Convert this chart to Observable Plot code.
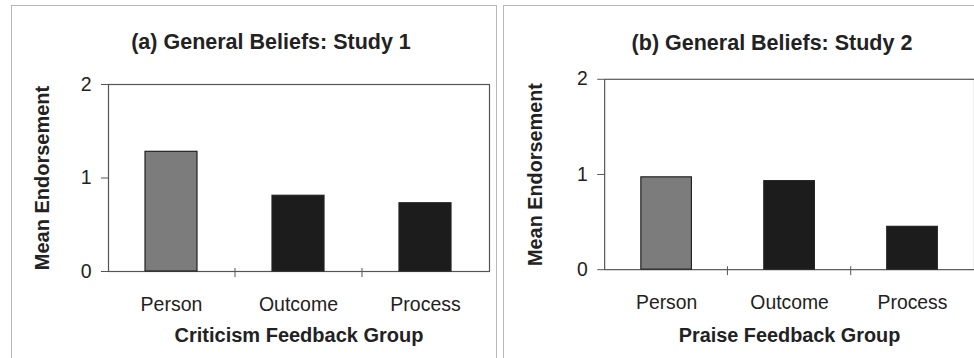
<!DOCTYPE html>
<html>
<head>
<meta charset="utf-8">
<script src="https://cdn.jsdelivr.net/npm/d3@7"></script>
<script src="https://cdn.jsdelivr.net/npm/@observablehq/plot@0.6"></script>
<style>
  html, body { margin: 0; padding: 0; background: #fff; width: 974px; height: 358px; overflow: hidden; }
  body { position: relative; font-family: "Liberation Sans", Arial, sans-serif; color: #222; }
  .panel { position: absolute; top: 5px; height: 400px; border: 1px solid #b8b8b8; box-sizing: border-box; }
  .title { position: absolute; font-weight: bold; font-size: 21.5px; color: #222; white-space: nowrap; transform: translate(-50%, -50%); }
  .chart { position: absolute; }
</style>
</head>
<body>
<div class="panel" style="left:11px; width:486px;"></div>
<div class="panel" style="left:503px; width:520px;"></div>
<div class="title" style="left:271px; top:42px;">(a) General Beliefs: Study 1</div>
<div class="title" style="left:772px; top:43px;">(b) General Beliefs: Study 2</div>
<div id="a" class="chart" style="left:13px; top:60px;"></div>
<div id="b" class="chart" style="left:506px; top:55px;"></div>
<script>
const categories = ["Person", "Outcome", "Process"];
const study1Values = [1.28, 0.81, 0.73];
const study2Values = [0.97, 0.93, 0.45];
const yTicks = [0, 1, 2];
const xLabels = ["Criticism Feedback Group", "Praise Feedback Group"];
const yLabel = "Mean Endorsement";
const barColors = ["#7c7c7c", "#1c1c1c", "#1c1c1c"];

const optsA = {width: 484, height: 290, marginLeft: 95, marginRight: 8, marginTop: 24, marginBottom: 79, yLabelOffset: 66, xLabelDy: 70};
const optsB = {width: 472, height: 295, marginLeft: 99, marginRight: 0, marginTop: 24, marginBottom: 79, yLabelOffset: 70, xLabelDy: 73};

function build(values, xLabel, opts) {
  const x = Plot.scale({x: {type: "band", domain: categories, range: [opts.marginLeft, opts.width - opts.marginRight], padding: 0}});
  const boundaries = categories.slice(1).map(c => x.apply(c));
  const data = categories.map((c, i) => ({category: c, value: values[i], color: barColors[i]}));
  return Plot.plot({
    width: opts.width,
    height: opts.height,
    marginLeft: opts.marginLeft,
    marginRight: opts.marginRight,
    marginTop: opts.marginTop,
    marginBottom: opts.marginBottom,
    style: {fontFamily: "'Liberation Sans', Arial, sans-serif", fontSize: "19.5px", color: "#222", background: "transparent", overflow: "visible"},
    x: {domain: categories, paddingInner: 0.59, paddingOuter: 0.295, label: null},
    y: {domain: [0, 2], label: null},
    marks: [
      Plot.frame({stroke: "#555", strokeWidth: 1.2}),
      Plot.barY(data, {x: "category", y: "value", fill: "color", stroke: "#222", strokeWidth: 1.2}),
      Plot.axisY({ticks: yTicks, tickFormat: d => String(d), tickSize: 7, tickPadding: 10, fontSize: 19.5, stroke: "#555", label: null}),
      Plot.axisX({tickSize: 0, tickPadding: 26, fontSize: 19.5, label: null}),
      Plot.text([xLabel], {frameAnchor: "bottom", dy: opts.xLabelDy, text: d => d, fontWeight: "bold", fontSize: 20, fill: "#222"}),
      Plot.text([yLabel], {frameAnchor: "left", textAnchor: "middle", dx: -opts.yLabelOffset, rotate: -90, text: d => d, fontWeight: "bold", fontSize: 20, fill: "#222"}),
      () => {
        const ns = "http://www.w3.org/2000/svg";
        const g = document.createElementNS(ns, "g");
        const y0 = opts.height - opts.marginBottom;
        for (const bx of boundaries) {
          const l = document.createElementNS(ns, "line");
          l.setAttribute("x1", bx); l.setAttribute("x2", bx);
          l.setAttribute("y1", y0 - 3); l.setAttribute("y2", y0 + 6);
          l.setAttribute("stroke", "#555");
          g.appendChild(l);
        }
        return g;
      }
    ]
  });
}

document.getElementById("a").appendChild(build(study1Values, xLabels[0], optsA));
document.getElementById("b").appendChild(build(study2Values, xLabels[1], optsB));
</script>
</body>
</html>
